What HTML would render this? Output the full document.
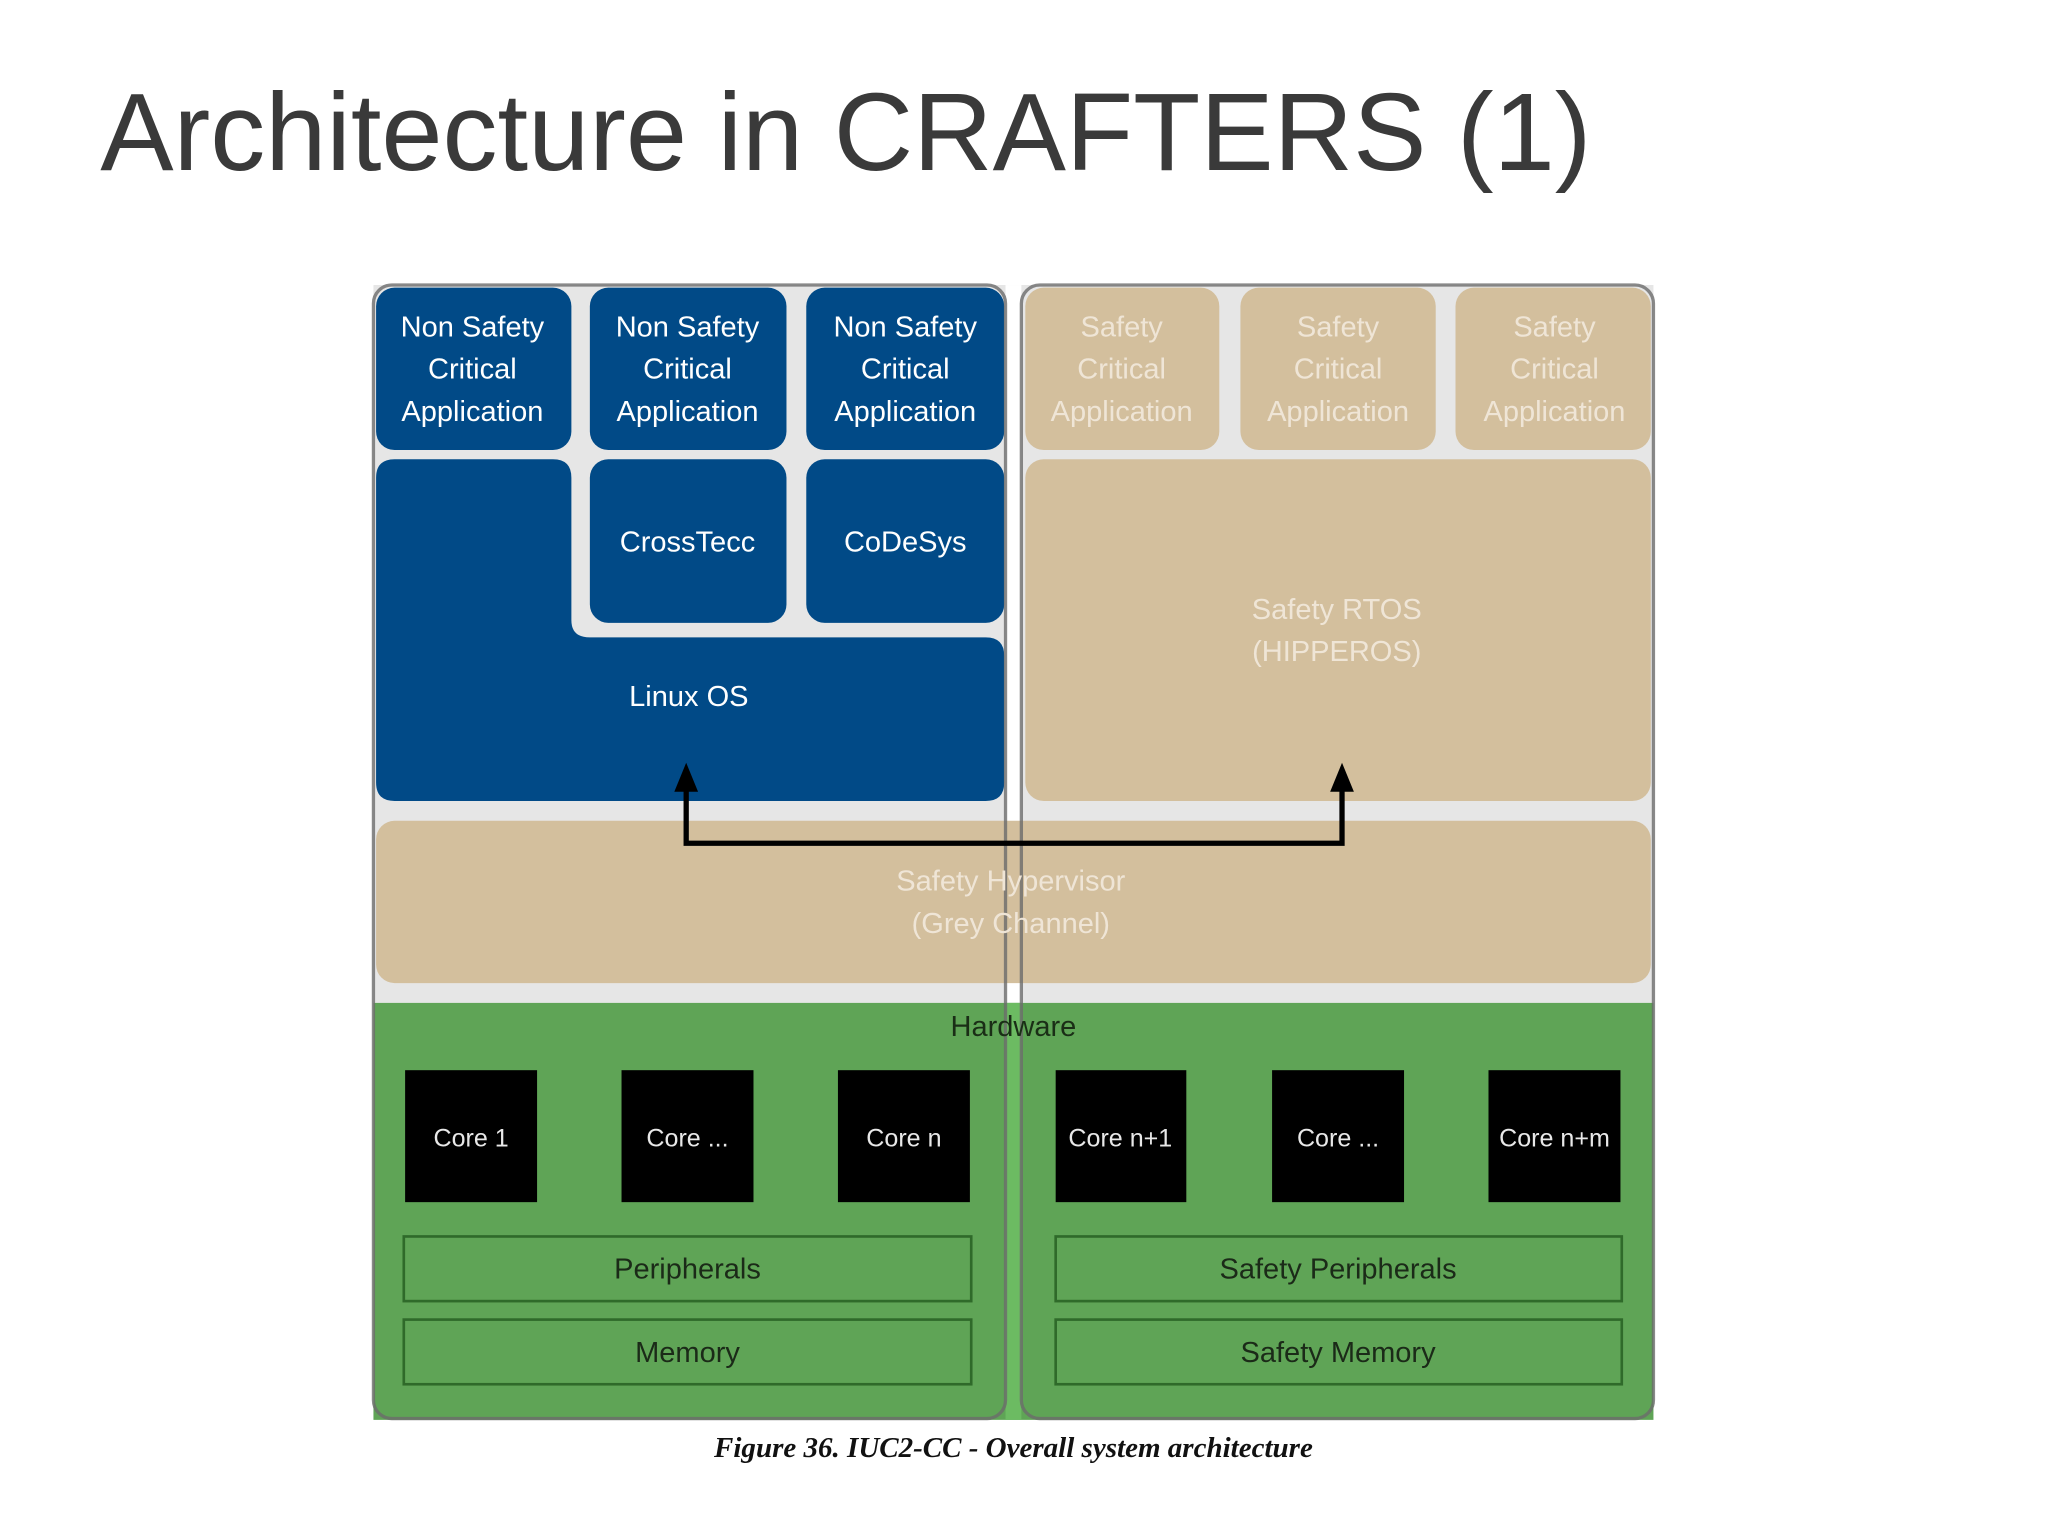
<!DOCTYPE html>
<html><head><meta charset="utf-8"><style>
html,body{margin:0;padding:0;background:#fff;}
svg{display:block;}
</style></head><body>
<svg width="2048" height="1536" viewBox="0 0 1552 1164" xmlns="http://www.w3.org/2000/svg" font-family="Liberation Sans, sans-serif">
<rect width="1552" height="1164" fill="#fff"/>
<text x="76" y="129" font-size="84" fill="#3a3a3a" textLength="1130" lengthAdjust="spacingAndGlyphs">Architecture in CRAFTERS (1)</text>

<!-- container backgrounds -->
<rect x="283" y="216" width="970" height="544" fill="#e6e6e6"/>
<rect x="762" y="216" width="12" height="544" fill="#fff"/>
<!-- green hardware -->
<rect x="283" y="760" width="970" height="316" fill="#5fa456"/>
<rect x="762" y="760" width="12" height="316" fill="#6cbb62"/>

<!-- blue apps -->
<g fill="#014a87">
<rect x="285" y="218" width="148" height="123" rx="14"/>
<rect x="447" y="218" width="149" height="123" rx="14"/>
<rect x="611" y="218" width="150" height="123" rx="14"/>
<rect x="447" y="348" width="149" height="124" rx="14"/>
<rect x="611" y="348" width="150" height="124" rx="14"/>
<path d="M299 348 H419 Q433 348 433 362 V470 Q433 483 447 483 H747 Q761 483 761 497 V593 Q761 607 747 607 H299 Q285 607 285 593 V362 Q285 348 299 348 Z"/>
</g>
<!-- tan -->
<g fill="#d3bf9d">
<rect x="777" y="218" width="147" height="123" rx="14"/>
<rect x="940" y="218" width="148" height="123" rx="14"/>
<rect x="1103" y="218" width="148" height="123" rx="14"/>
<rect x="777" y="348" width="474" height="259" rx="14"/>
<rect x="285" y="622" width="966" height="123" rx="14"/>
</g>

<!-- containers outline -->
<rect x="283" y="216" width="479" height="859" rx="14" fill="none" stroke="#6b6b6b" stroke-width="2.5" opacity="0.8"/>
<rect x="774" y="216" width="479" height="859" rx="14" fill="none" stroke="#6b6b6b" stroke-width="2.5" opacity="0.8"/>

<!-- blue texts -->
<g fill="#fff" font-size="22" text-anchor="middle">
<text x="358" y="255">Non Safety</text><text x="358" y="287">Critical</text><text x="358" y="319">Application</text>
<text x="521" y="255">Non Safety</text><text x="521" y="287">Critical</text><text x="521" y="319">Application</text>
<text x="686" y="255">Non Safety</text><text x="686" y="287">Critical</text><text x="686" y="319">Application</text>
<text x="521" y="418">CrossTecc</text>
<text x="686" y="418">CoDeSys</text>
<text x="522" y="535">Linux OS</text>
</g>
<g fill="#efe5d6" font-size="22" text-anchor="middle">
<text x="850" y="255">Safety</text><text x="850" y="287">Critical</text><text x="850" y="319">Application</text>
<text x="1014" y="255">Safety</text><text x="1014" y="287">Critical</text><text x="1014" y="319">Application</text>
<text x="1178" y="255">Safety</text><text x="1178" y="287">Critical</text><text x="1178" y="319">Application</text>
<text x="1013" y="469">Safety RTOS</text><text x="1013" y="501">(HIPPEROS)</text>
<text x="766" y="675">Safety Hypervisor</text><text x="766" y="707">(Grey Channel)</text>
</g>

<!-- arrow -->
<path d="M520 598 V639 H1017 V598" fill="none" stroke="#000" stroke-width="4"/>
<polygon points="520,578 511,600 529,600" fill="#000"/>
<polygon points="1017,578 1008,600 1026,600" fill="#000"/>

<text x="768" y="785" font-size="22" fill="#1a2e16" text-anchor="middle">Hardware</text>

<!-- cores -->
<g fill="#000">
<rect x="307" y="811" width="100" height="100"/>
<rect x="471" y="811" width="100" height="100"/>
<rect x="635" y="811" width="100" height="100"/>
<rect x="800" y="811" width="99" height="100"/>
<rect x="964" y="811" width="100" height="100"/>
<rect x="1128" y="811" width="100" height="100"/>
</g>
<g fill="#e8e8e8" font-size="19" text-anchor="middle">
<text x="357" y="869">Core 1</text>
<text x="521" y="869">Core ...</text>
<text x="685" y="869">Core n</text>
<text x="849" y="869">Core n+1</text>
<text x="1014" y="869">Core ...</text>
<text x="1178" y="869">Core n+m</text>
</g>
<g fill="none" stroke="#2f6a2a" stroke-width="2">
<rect x="306" y="937" width="430" height="49"/>
<rect x="306" y="1000" width="430" height="49"/>
<rect x="800" y="937" width="429" height="49"/>
<rect x="800" y="1000" width="429" height="49"/>
</g>
<g fill="#1b2a18" font-size="22" text-anchor="middle">
<text x="521" y="969">Peripherals</text>
<text x="521" y="1032">Memory</text>
<text x="1014" y="969">Safety Peripherals</text>
<text x="1014" y="1032">Safety Memory</text>
</g>

<text x="768" y="1104" font-family="Liberation Serif, serif" font-style="italic" font-weight="bold" font-size="22" fill="#111" text-anchor="middle">Figure 36. IUC2-CC - Overall system architecture</text>
</svg>
</body></html>
